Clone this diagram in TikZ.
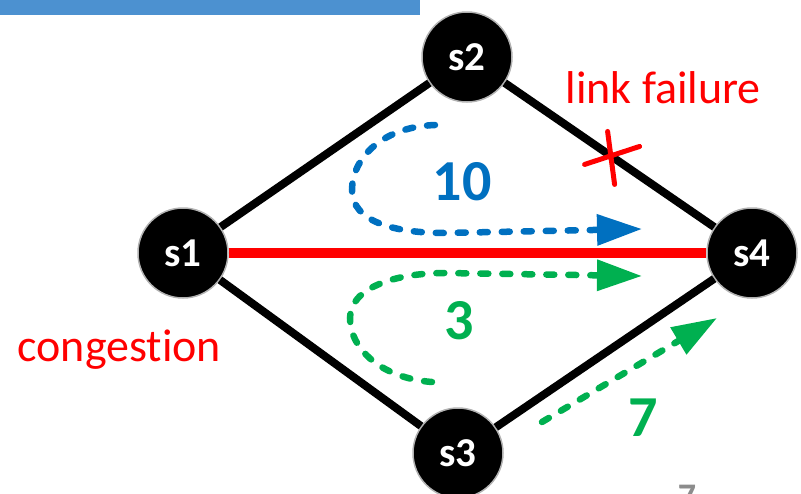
\documentclass[tikz,border=0pt]{standalone}
\usepackage{fontspec}
\setmainfont{Carlito}[Ligatures={NoCommon}]
\usetikzlibrary{arrows.meta}
\definecolor{barblue}{RGB}{76,145,208}
\definecolor{flowblue}{RGB}{0,112,192}
\definecolor{flowgreen}{RGB}{0,176,80}
\definecolor{alertred}{RGB}{255,0,0}
\tikzset{
  sw/.style={circle, fill=black, draw=black!30, line width=1.5pt, minimum size=90pt, inner sep=0pt,
             text=white, font=\fontsize{41}{44}\selectfont\bfseries},
  link/.style={line width=8pt, black},
  flow/.style={line width=6.5pt, dash pattern=on 8pt off 14pt, line cap=round,
               -{Triangle[length=45pt,width=30pt]}},
  num/.style={font=\fontsize{58}{62}\selectfont\bfseries},
  redlabel/.style={text=alertred, font=\fontsize{46}{50}\selectfont},
}
\begin{document}
\begin{tikzpicture}[x=1pt,y=-1pt]
\useasboundingbox (0,0) rectangle (801,493);
\fill[barblue] (0,0) rectangle (420,15);

\node[sw] (s1) at (183,253) {s1};
\node[sw] (s2) at (467,57) {s2};
\node[sw] (s4) at (752,253) {s4};
\node[sw] (s3) at (458,453) {s3};

\draw[link] (s1) -- (s2);
\draw[link] (s1) -- (s3);
\draw[link] (s3) -- (s4);
\draw[link] (s2) -- coordinate[pos=0.51] (xmark) (s4);
\draw[line width=10pt, alertred] (s1) -- (s4);

\draw[alertred, line width=5pt, line cap=round] ([shift={(-27,8)}]xmark) -- ([shift={(28,-10)}]xmark);
\draw[alertred, line width=5pt, line cap=round] ([shift={(-4,-25)}]xmark) -- ([shift={(3,28)}]xmark);

\node[redlabel, anchor=west] (lf) at (562,88) {link failure};
\node[redlabel, anchor=west] (cg) at (14,350) {congestion};

% blue flow
\coordinate (b0) at (435,125);
\coordinate (b1) at (352,190);
\coordinate (b2) at (445,233);
\coordinate (b3) at (642,229);
\draw[flow, flowblue] (b0) .. controls (380,127) and (352,160) .. (b1)
   .. controls (352,222) and (395,233) .. (b2) -- (b3);
\node[num, text=flowblue] (n10) at (462,182) {10};

% green flow via s1-s4
\coordinate (g0) at (432,382);
\coordinate (g1) at (350,318);
\coordinate (g2) at (445,273);
\coordinate (g3) at (642,276);
\draw[flow, flowgreen] (g0) .. controls (380,378) and (350,348) .. (g1)
   .. controls (350,288) and (395,273) .. (g2) -- (g3);
\node[num, text=flowgreen] (n3) at (459,321) {3};

% green flow via s3-s4
\coordinate (h0) at (542,422);
\coordinate (h1) at (717,318);
\draw[flow, flowgreen] (h0) -- (h1);
\node[num, text=flowgreen] (n7) at (643,418) {7};

\node[text=black!45, font=\fontsize{36}{40}\selectfont\bfseries, anchor=north] (pg) at (687,482) {7};
\end{tikzpicture}
\end{document}
